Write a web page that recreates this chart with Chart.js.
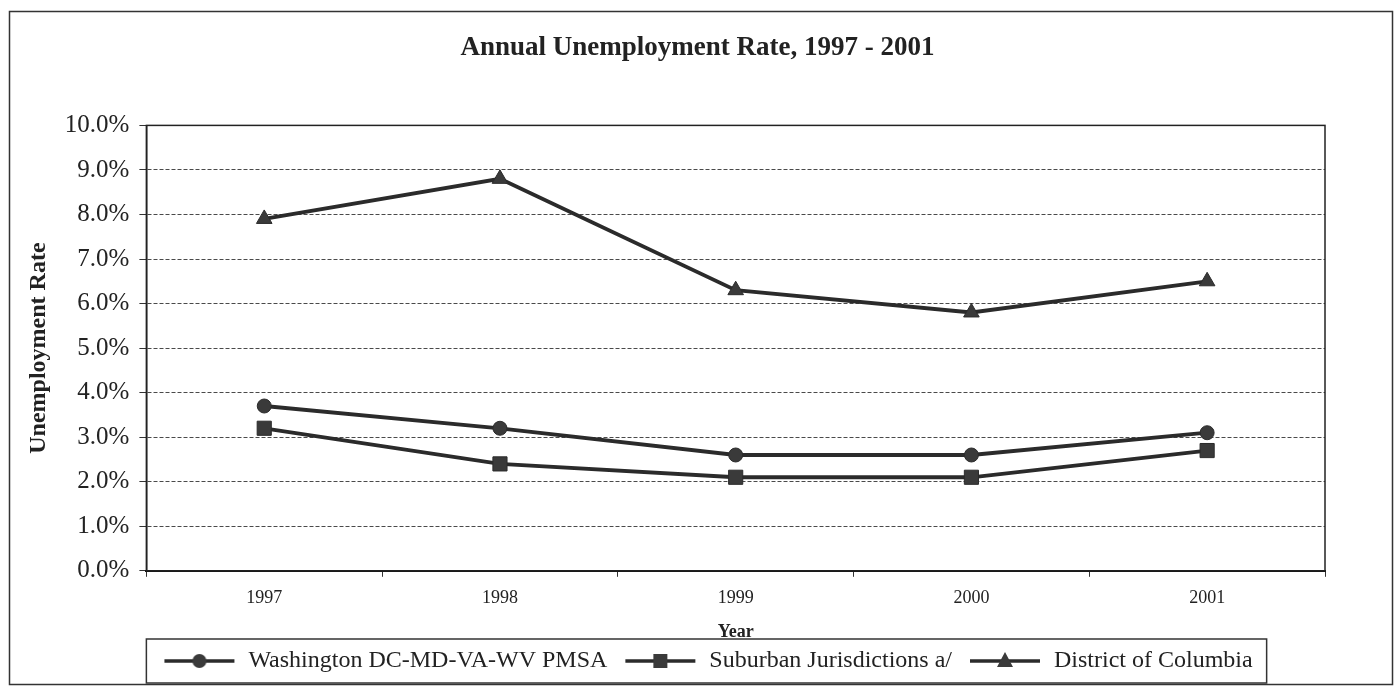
<!DOCTYPE html>
<html>
<head>
<meta charset="utf-8">
<script src="https://cdn.jsdelivr.net/npm/chart.js@4.4.1/dist/chart.umd.min.js"></script>
<style>
  html, body { margin: 0; padding: 0; background: #fff; }
  #wrap { width: 1395px; height: 689px; }
</style>
</head>
<body>
<div id="wrap"><canvas id="unempChart" width="1395" height="689"></canvas></div>
<script>
const years = ['1997', '1998', '1999', '2000', '2001'];
const pmsaRate = [3.7, 3.2, 2.6, 2.6, 3.1];
const suburbanRate = [3.2, 2.4, 2.1, 2.1, 2.7];
const dcRate = [7.9, 8.8, 6.3, 5.8, 6.5];
const seriesNames = ['Washington DC-MD-VA-WV PMSA', 'Suburban Jurisdictions a/', 'District of Columbia'];
const yTicks = [0, 1, 2, 3, 4, 5, 6, 7, 8, 9, 10];

const SERIF = '"Liberation Serif", "Times New Roman", serif';
const LINE = '#2b2b2b';
const MARK = '#3a3a3a';

// legend sample: line with marker in the middle
function legendSample(style) {
    const c = document.createElement('canvas');
    c.width = 84; c.height = 26;
    const g = c.getContext('2d');
    g.strokeStyle = LINE;
    g.lineWidth = 3.5;
    g.beginPath(); g.moveTo(12, 13); g.lineTo(82, 13); g.stroke();
    g.fillStyle = MARK;
    g.beginPath();
    if (style === 'circle') {
        g.arc(47, 13, 7, 0, Math.PI * 2);
    } else if (style === 'rect') {
        g.rect(40, 6, 14, 14);
    } else {
        g.moveTo(47, 4); g.lineTo(55, 19); g.lineTo(39, 19); g.closePath();
    }
    g.fill();
    return c;
}

const frame = {
    id: 'frame',
    afterLayout(chart) {
        // centre the title over the whole page like the original
        chart.titleBlock.left = 70;
        chart.titleBlock.right = 1325;
    },
    beforeDatasetsDraw(chart) {
        const { ctx, chartArea: a } = chart;
        ctx.save();
        ctx.strokeStyle = '#222';
        ctx.lineWidth = 1.5;
        ctx.strokeRect(a.left, a.top, a.right - a.left, a.bottom - a.top);
        ctx.restore();
    },
    afterDraw(chart) {
        const { ctx, legend } = chart;
        ctx.save();
        ctx.strokeStyle = '#333';
        ctx.lineWidth = 1.5;
        ctx.strokeRect(9.5, 11.5, 1383, 673);
        const boxes = legend.legendHitBoxes;
        if (boxes && boxes.length) {
            const last = boxes[boxes.length - 1];
            const left = boxes[0].left - 6;
            const right = last.left + last.width + 14;
            ctx.strokeRect(left, legend.top - 4, right - left, legend.bottom - legend.top + 4);
        }
        ctx.restore();
    }
};

const ds = (label, data, style, radius) => ({
    label,
    data,
    borderColor: LINE,
    borderWidth: 3.8,
    backgroundColor: MARK,
    pointStyle: style,
    pointRadius: radius,
    pointHoverRadius: radius,
    pointBackgroundColor: MARK,
    pointBorderColor: LINE,
    pointBorderWidth: 1,
    tension: 0,
    fill: false
});

new Chart(document.getElementById('unempChart'), {
    type: 'line',
    data: {
        labels: years,
        datasets: [
            ds(seriesNames[0], pmsaRate, 'circle', 7),
            ds(seriesNames[1], suburbanRate, 'rect', 10),
            ds(seriesNames[2], dcRate, 'triangle', 9)
        ]
    },
    options: {
        responsive: false,
        animation: false,
        layout: { padding: { top: 10, left: 24, right: 70, bottom: 6 } },
        plugins: {
            title: {
                display: true,
                text: 'Annual Unemployment Rate, 1997 - 2001',
                color: '#222',
                font: { family: SERIF, size: 27, weight: 'bold' },
                padding: { top: 22, bottom: 61 }
            },
            legend: {
                position: 'bottom',
                align: 'start',
                fullSize: false,
                labels: {
                    color: '#222',
                    font: { family: SERIF, size: 24 },
                    usePointStyle: true,
                    pointStyleWidth: 84,
                    padding: 6,
                    generateLabels(chart) {
                        const items = Chart.defaults.plugins.legend.labels.generateLabels(chart);
                        const styles = ['circle', 'rect', 'triangle'];
                        items.forEach((it, i) => { it.pointStyle = legendSample(styles[i]); });
                        return items;
                    }
                }
            },
            tooltip: { enabled: false }
        },
        scales: {
            x: {
                offset: true,
                grid: { offset: true, drawOnChartArea: false, drawTicks: true, tickLength: 6, tickColor: '#333' },
                border: { color: '#111', width: 2 },
                ticks: { color: '#222', padding: 11, font: { family: SERIF, size: 18 } },
                title: {
                    display: true,
                    text: 'Year',
                    color: '#222',
                    font: { family: SERIF, size: 18, weight: 'bold' },
                    padding: { top: 1, bottom: 0 }
                }
            },
            y: {
                min: 0,
                max: 10,
                afterBuildTicks(scale) { scale.ticks = yTicks.map(v => ({ value: v })); },
                grid: { color: '#4a4a4a', lineWidth: 1, tickLength: 7, tickColor: '#333', tickWidth: 1 },
                border: { color: '#222', width: 1.5, dash: [4, 2] },
                ticks: {
                    color: '#222',
                    padding: 10,
                    font: { family: SERIF, size: 25 },
                    callback: v => Number(v).toFixed(1) + '%'
                },
                title: {
                    display: true,
                    text: 'Unemployment Rate',
                    color: '#222',
                    font: { family: SERIF, size: 24, weight: 'bold' },
                    padding: { top: 0, bottom: 2 }
                }
            }
        }
    },
    plugins: [frame]
});
</script>
</body>
</html>
